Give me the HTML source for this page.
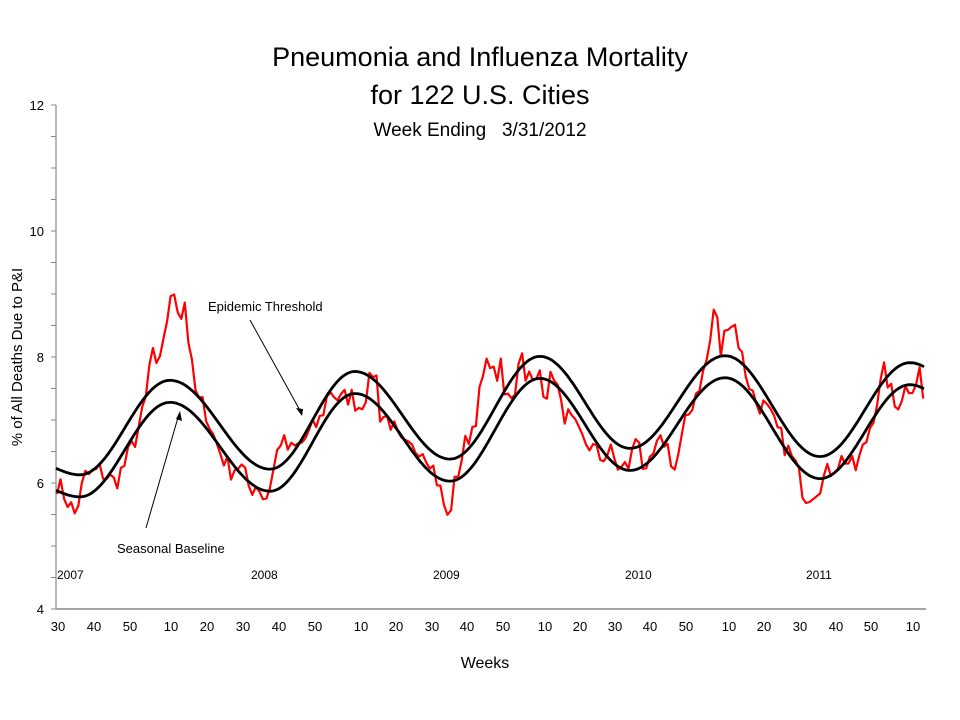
<!DOCTYPE html>
<html><head><style>
html,body{margin:0;padding:0;background:#fff;}
svg{display:block;font-family:"Liberation Sans",Arial,sans-serif;}
</style></head><body>
<svg id="s" width="960" height="720" viewBox="0 0 960 720" xmlns="http://www.w3.org/2000/svg">
<text x="480" y="66" font-size="27" text-anchor="middle">Pneumonia and Influenza Mortality</text>
<text x="480" y="104" font-size="27" text-anchor="middle">for 122 U.S. Cities</text>
<text x="480" y="136" font-size="19" text-anchor="middle" xml:space="preserve">Week Ending   3/31/2012</text>
<text transform="translate(22,357) rotate(-90)" font-size="15" text-anchor="middle">% of All Deaths Due to P&amp;I</text>
<text x="485" y="668" font-size="16" text-anchor="middle">Weeks</text>
<g font-size="13" text-anchor="end">
<text x="44" y="110">12</text><text x="44" y="236">10</text><text x="44" y="362">8</text><text x="44" y="488">6</text><text x="44" y="614">4</text>
</g>
<g font-size="12">
<text x="57" y="579">2007</text><text x="251" y="579">2008</text><text x="433" y="579">2009</text><text x="625" y="579">2010</text><text x="806" y="579">2011</text>
</g>
<g font-size="13" text-anchor="middle" id="xl"></g>
<line x1="56" y1="105" x2="56" y2="609" stroke="#888" stroke-width="1.2"/>
<line x1="56" y1="609" x2="926" y2="609" stroke="#888" stroke-width="1.5"/>
<g id="yt" stroke="#888"></g>
<path id="red" fill="none" stroke="#ff0000" stroke-width="2.2" stroke-linejoin="round"/>
<path id="base" fill="none" stroke="#000" stroke-width="2.8"/>
<path id="thr" fill="none" stroke="#000" stroke-width="2.8"/>
<text x="208" y="311" font-size="13">Epidemic Threshold</text>
<line x1="250" y1="320" x2="302" y2="414" stroke="#000" stroke-width="1"/>
<path d="M302,416 L296,408 L303,409 Z" fill="#000"/>
<text x="117" y="553" font-size="13">Seasonal Baseline</text>
<line x1="146" y1="528" x2="179" y2="414" stroke="#000" stroke-width="1"/>
<path d="M180,411 L182,421 L176,419 Z" fill="#000"/>
</svg>
<script>
var Y=function(v){return 609-(v-4)*63;};
var ns="http://www.w3.org/2000/svg";
var xl=document.getElementById('xl');
var labs=[[58,30],[94,40],[130,50],[171,10],[207,20],[243,30],[279,40],[315,50],[361,10],[396,20],[432,30],[467,40],[503,50],[545,10],[580,20],[615,30],[650,40],[686,50],[729,10],[764,20],[800,30],[836,40],[871,50],[913,10]];
labs.forEach(function(l){var t=document.createElementNS(ns,'text');t.setAttribute('x',l[0]);t.setAttribute('y',631);t.textContent=l[1];xl.appendChild(t);});
var yt=document.getElementById('yt');
for(var v=4;v<=12.001;v+=0.5){var ln=document.createElementNS(ns,'line');ln.setAttribute('x1',51);ln.setAttribute('x2',56);ln.setAttribute('y1',Y(v));ln.setAttribute('y2',Y(v));yt.appendChild(ln);}
// baseline: troughs/peaks
var kp=[[30,6.0],[80,5.78],[170,7.28],[270,5.87],[355,7.42],[450,6.03],[540,7.66],[630,6.2],[725,7.67],[820,6.07],[910,7.56],[960,7.2]];
function base(x){for(var i=0;i<kp.length-1;i++){var a=kp[i],b=kp[i+1];if(x>=a[0]&&x<=b[0]){var t=(x-a[0])/(b[0]-a[0]);var s=(1-Math.cos(Math.PI*t))/2;return a[1]+(b[1]-a[1])*s;}}return 7;}
var pb="",pt="";
for(var x=56;x<=924;x+=2){pb+=(x==56?"M":"L")+x+","+Y(base(x)).toFixed(1);pt+=(x==56?"M":"L")+x+","+Y(base(x)+0.35).toFixed(1);}
document.getElementById('base').setAttribute('d',pb);
document.getElementById('thr').setAttribute('d',pt);
var a=[[57,6.0],[65,5.8],[75,5.5],[85,6.1],[100,6.2],[115,6.0],[125,6.3],[135,6.7],[145,7.2],[152,8.2],[158,7.6],[163,8.3],[168,8.7],[175,9.1],[180,8.6],[185,8.9],[190,8.0],[197,7.3],[205,7.2],[212,6.8],[220,6.5],[230,6.2],[240,6.3],[250,5.9],[258,6.0],[265,5.7],[272,6.1],[280,6.7],[290,6.5],[300,6.6],[310,6.8],[320,7.0],[330,7.5],[340,7.3],[350,7.4],[360,7.2],[370,7.6],[375,7.9],[380,7.1],[390,7.0],[400,6.6],[410,6.5],[420,6.6],[430,6.4],[440,5.9],[448,5.4],[455,6.0],[465,6.6],[475,7.0],[482,7.6],[490,8.0],[495,7.6],[500,7.9],[505,7.3],[515,7.5],[520,8.2],[525,7.8],[535,7.5],[540,7.8],[545,7.4],[555,7.8],[560,7.2],[570,7.0],[580,6.7],[590,6.6],[600,6.4],[610,6.5],[620,6.2],[630,6.3],[638,6.9],[645,6.0],[655,6.5],[665,6.7],[675,6.2],[685,6.9],[695,7.4],[705,7.8],[712,8.4],[715,9.0],[720,8.0],[728,8.6],[735,8.5],[745,7.8],[755,7.3],[765,7.2],[775,6.9],[785,6.6],[795,6.3],[805,5.8],[815,5.9],[825,6.1],[835,6.3],[845,6.4],[855,6.2],[865,6.6],[875,7.2],[885,7.8],[895,7.2],[905,7.5],[915,7.6],[920,7.8],[924,7.2]];
function interp(x){for(var i=0;i<a.length-1;i++){if(x>=a[i][0]&&x<=a[i+1][0]){var t=(x-a[i][0])/(a[i+1][0]-a[i][0]);return a[i][1]+(a[i+1][1]-a[i][1])*t;}}return a[a.length-1][1];}
var seed=7;function rnd(){seed=(seed*16807)%2147483647;return seed/2147483647;}
var pr="";
for(var x=57;x<=924;x+=3.55){var v=interp(x)+(rnd()-0.5)*0.35;pr+=(pr?"L":"M")+x.toFixed(1)+","+Y(v).toFixed(1);}
document.getElementById('red').setAttribute('d',pr);
</script>
</body></html>
